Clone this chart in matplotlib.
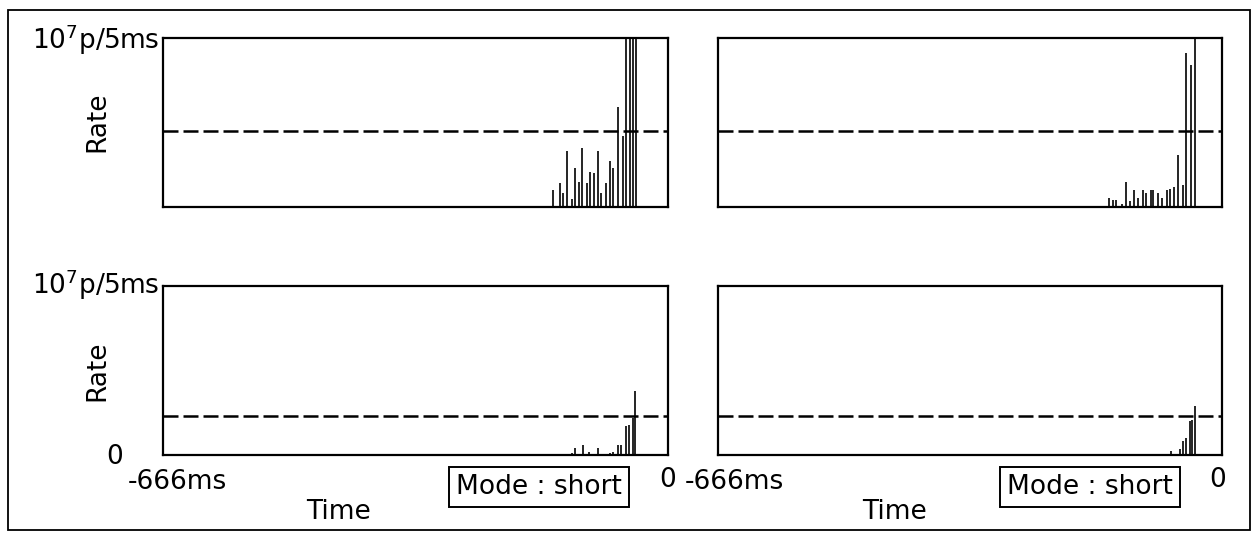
import matplotlib
matplotlib.use('Agg')
import matplotlib.pyplot as plt
from matplotlib.patches import Rectangle

plt.rcParams['font.family'] = ['DejaVu Sans']

# time of each 5 ms bin (ms before the event) and rate in units of 10^7 p/5ms
t_tl = [-152, -143, -138, -133, -127, -122, -117, -113, -107, -103, -98,
        -92, -88, -82, -77, -72, -66, -59, -55, -50, -46, -42]
r_tl = [0.10, 0.14, 0.08, 0.33, 0.05, 0.23, 0.15, 0.35, 0.14, 0.21, 0.20,
        0.33, 0.08, 0.14, 0.27, 0.23, 0.59, 0.42, 1.2, 1.2, 1.2, 1.2]

t_tr = [-149, -144, -140, -132, -127, -122, -116, -111, -105, -100, -94,
        -91, -84, -79, -73, -69, -64, -58, -52, -47, -41, -36]
r_tr = [0.055, 0.04, 0.04, 0.015, 0.145, 0.035, 0.10, 0.055, 0.10, 0.08, 0.10,
        0.10, 0.085, 0.055, 0.10, 0.105, 0.12, 0.31, 0.13, 0.91, 0.84, 1.2]

t_bl = [-126, -123, -112, -104, -92, -76, -73, -66, -62, -55, -52, -46, -43]
r_bl = [0.01, 0.04, 0.06, 0.02, 0.04, 0.01, 0.02, 0.06, 0.06, 0.17, 0.18, 0.22, 0.38]

t_br = [-68, -56, -51, -47, -42, -39, -36]
r_br = [0.025, 0.035, 0.085, 0.10, 0.20, 0.21, 0.29]

thr_top = 0.45
thr_bot = 0.23
t_min = -666
mode_txt = 'Mode : short'

W, H = 1255, 535
fig = plt.figure(figsize=(W / 100, H / 100), dpi=100)

def px(x, y):
    return x / W, 1 - y / H

def make_ax(x0, y0, x1, y1):
    l, t = px(x0, y0)
    r, b = px(x1, y1)
    ax = fig.add_axes([l, b, r - l, t - b])
    ax.set_xlim(t_min, 0)
    ax.set_ylim(0, 1)
    ax.set_xticks([])
    ax.set_yticks([])
    for s in ax.spines.values():
        s.set_linewidth(1.6)
    return ax

panels = [
    (make_ax(163, 38, 668, 207), t_tl, r_tl, thr_top),
    (make_ax(718, 38, 1222, 207), t_tr, r_tr, thr_top),
    (make_ax(163, 286, 668, 455), t_bl, r_bl, thr_bot),
    (make_ax(718, 286, 1222, 455), t_br, r_br, thr_bot),
]

for ax, t, r, thr in panels:
    ax.vlines(t, 0, r, color='black', lw=1.2)
    ax.axhline(thr, color='black', lw=1.8, ls=(0, (6, 2)))

fs = 19
# left labels
for ytop, ymid in [(40, 122), (285, 371)]:
    fig.text(*px(96, ytop), r'$10^7$p/5ms', fontsize=fs, ha='center', va='center')
    fig.text(*px(97, ymid), 'Rate', fontsize=fs, rotation=90, ha='center', va='center')
fig.text(*px(115, 457), '0', fontsize=fs, ha='center', va='center')

# time axis labels
for xl, xr, xt, xb in [(177, 668, 338, 539), (734, 1218, 895, 1090)]:
    fig.text(*px(xl, 482), '-666ms', fontsize=fs, ha='center', va='center')
    fig.text(*px(xr, 480), '0', fontsize=fs, ha='center', va='center')
    fig.text(*px(xt, 512), 'Time', fontsize=fs, ha='center', va='center')
    fig.text(*px(xb, 487), mode_txt, fontsize=fs, ha='center', va='center',
             bbox=dict(boxstyle='square,pad=0.25', fc='white', ec='black', lw=1.4))

# outer frame
l, t = px(8, 10)
r, b = px(1250, 530)
fig.add_artist(Rectangle((l, b), r - l, t - b, transform=fig.transFigure,
                         fill=False, ec='black', lw=1.3))

fig.savefig('out.png', dpi=100)
